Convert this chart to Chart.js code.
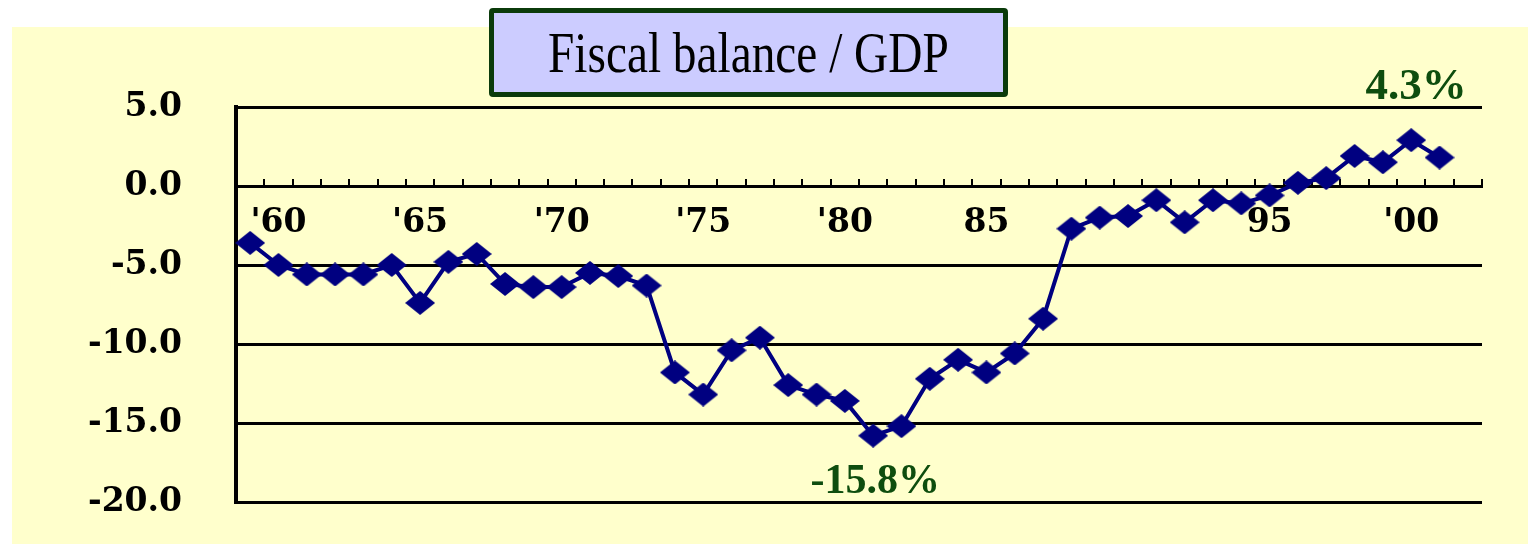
<!DOCTYPE html>
<html>
<head>
<meta charset="utf-8">
<script src="https://cdn.jsdelivr.net/npm/chart.js@4.4.1/dist/chart.umd.min.js"></script>
<style>
html, body { margin: 0; padding: 0; background: #ffffff; }
#wrap { position: relative; width: 1528px; height: 544px; overflow: hidden; background: #ffffff; }
#bg { position: absolute; left: 12px; top: 27px; width: 1516px; height: 517px; background: #FFFFCC; }
#chart { position: absolute; left: 0; top: 0; }
#title { position: absolute; left: 489px; top: 8px; width: 519px; height: 89px; box-sizing: border-box;
  border: 5px solid #0B3B0B; border-radius: 4px; background: #CCCCFF;
  display: flex; align-items: center; justify-content: center; }
#title span { display: inline-block; font-family: "Liberation Serif", "Times New Roman", serif; font-size: 57px;
  line-height: 1; color: #000; white-space: nowrap; transform: scaleX(0.83); }
</style>
</head>
<body>
<div id="wrap">
  <div id="bg"></div>
  <canvas id="chart" width="1528" height="544"></canvas>
  <div id="title"><span>Fiscal balance / GDP</span></div>
</div>
<script>
// ---- data ----
const years = ['1959','1960','1961','1962','1963','1964','1965','1966','1967','1968','1969',
  '1970','1971','1972','1973','1974','1975','1976','1977','1978','1979',
  '1980','1981','1982','1983','1984','1985','1986','1987','1988','1989',
  '1990','1991','1992','1993','1994','1995','1996','1997','1998','1999',
  '2000','2001','2002'];
const balance = [-3.6, -5.0, -5.6, -5.6, -5.6, -5.0, -7.4, -4.8, -4.3, -6.2, -6.4,
  -6.4, -5.5, -5.7, -6.3, -11.8, -13.2, -10.4, -9.6, -12.6, -13.2,
  -13.6, -15.8, -15.2, -12.2, -11.0, -11.8, -10.6, -8.4, -2.7, -2.0,
  -1.9, -0.9, -2.3, -0.9, -1.1, -0.6, 0.2, 0.5, 1.9, 1.5,
  2.9, 1.8, null];
const xTickLabels = ['', "'60", '', '', '', '', "'65", '', '', '', '',
  "'70", '', '', '', '', "'75", '', '', '', '',
  "'80", '', '', '', '', '85', '', '', '', '',
  '', '', '', '', '', '95', '', '', '', '',
  "'00", '', ''];
const yTickValues = [5, 0, -5, -10, -15, -20];
const noteTexts = ['4.3%', '-15.8%'];
const noteYears = ['2000', '1981'];
const noteLevels = [5.5, -19.43];

// ---- styling helpers ----
function makeDiamond(w, h, color) {
  const c = document.createElement('canvas');
  c.width = w; c.height = h;
  const g = c.getContext('2d');
  g.fillStyle = color;
  g.beginPath();
  g.moveTo(w / 2, 0); g.lineTo(w, h / 2); g.lineTo(w / 2, h); g.lineTo(0, h / 2);
  g.closePath(); g.fill();
  return c;
}
const diamond = makeDiamond(30, 24, '#000080');
const labelFont = { family: '"DejaVu Serif", serif', size: 33, weight: 'bold' };

const notesPlugin = {
  id: 'notes',
  afterDatasetsDraw(chart) {
    const ctx = chart.ctx;
    const xs = chart.scales.x, ys = chart.scales.y;
    ctx.save();
    ctx.fillStyle = '#0E4D0E';
    ctx.textAlign = 'center';
    ctx.textBaseline = 'alphabetic';
    noteTexts.forEach((t, i) => {
      ctx.font = 'bold ' + (i === 0 ? 45 : 42) + 'px "Liberation Serif", "Times New Roman", serif';
      const x = xs.getPixelForValue(years.indexOf(noteYears[i])) + (i === 0 ? 5 : 2);
      const y = ys.getPixelForValue(noteLevels[i]);
      ctx.fillText(t, x, y);
    });
    ctx.restore();
  }
};

new Chart(document.getElementById('chart'), {
  type: 'line',
  data: {
    labels: years,
    datasets: [{
      data: balance,
      borderColor: '#000080',
      backgroundColor: '#000080',
      borderWidth: 4,
      tension: 0,
      pointStyle: diamond,
      pointRadius: 15,
      pointHoverRadius: 15,
      clip: false
    }]
  },
  options: {
    responsive: false,
    animation: false,
    devicePixelRatio: 1,
    events: [],
    layout: { padding: { left: 0, right: 46, top: 107, bottom: 42 } },
    plugins: { legend: { display: false }, tooltip: { enabled: false }, title: { display: false } },
    scales: {
      x: {
        type: 'category',
        position: { y: 0 },
        offset: true,
        grid: { display: true, drawOnChartArea: false, drawTicks: true, tickLength: -9, offset: true,
                color: '#000', lineWidth: 2 },
        border: { display: true, color: '#000', width: 3 },
        ticks: { autoSkip: false, maxRotation: 0, minRotation: 0, padding: 27, color: '#000',
                 font: labelFont, callback: (v, i) => xTickLabels[i] },
        afterFit: s => { s.height = 0; s.paddingLeft = 0; s.paddingRight = 0; }
      },
      y: {
        min: -20, max: 5,
        afterBuildTicks: s => { s.ticks = yTickValues.map(v => ({ value: v })); },
        ticks: { padding: 54, color: '#000', font: labelFont, callback: v => Number(v).toFixed(1) },
        grid: { color: '#000', lineWidth: 3, drawTicks: false },
        border: { display: true, color: '#000', width: 4 },
        afterFit: s => { s.width = 236; s.paddingTop = 0; s.paddingBottom = 0; }
      }
    }
  },
  plugins: [notesPlugin]
});
</script>
</body>
</html>
